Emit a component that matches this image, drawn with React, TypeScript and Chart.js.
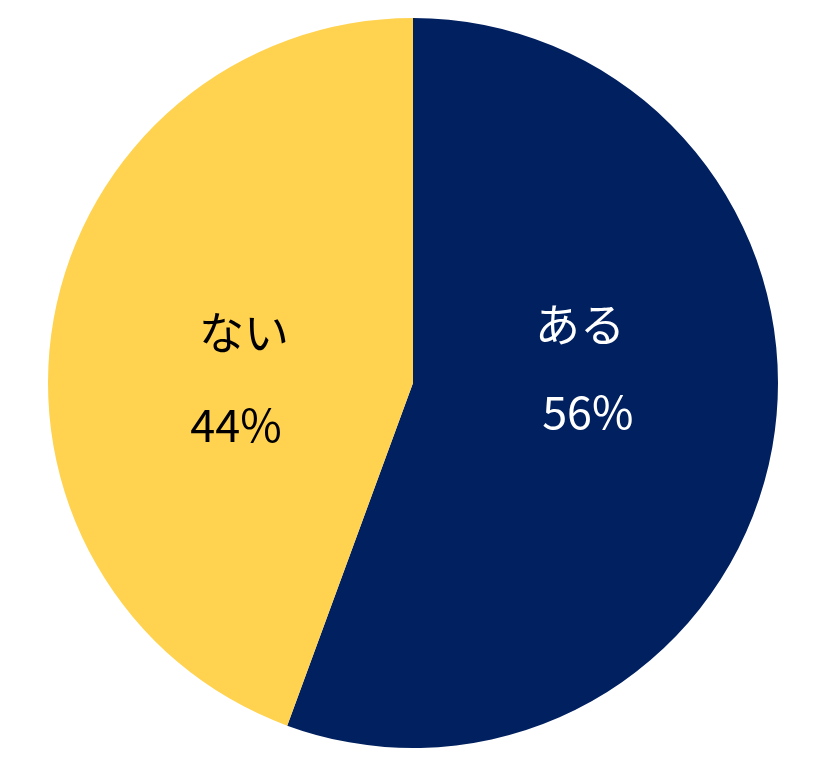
import React, { useEffect, useRef } from "react";
import { Chart, registerables } from "chart.js";

Chart.register(...registerables);

const categories = ["ある", "ない"];
const values = [55.6, 44.4];
const percentLabels = ["56%", "44%"];
const sliceColors = ["#002060", "#FFD24F"];
const textColors = ["#FFFFFF", "#000000"];

// label offsets as fractions of radius: [nameDx, nameDy, pctDx, pctDy]
const labelOffsets = [
  [0.4575, -0.159, 0.479, 0.079],
  [-0.463, -0.137, -0.485, 0.115],
];

const labelPlugin = {
  id: "sliceLabels",
  afterDatasetsDraw(chart: any) {
    const meta = chart.getDatasetMeta(0);
    const arc0 = meta.data[0];
    if (!arc0) return;
    const cx = arc0.x;
    const cy = arc0.y;
    const r = arc0.outerRadius;
    const ctx = chart.ctx;
    ctx.save();
    ctx.textAlign = "center";
    ctx.textBaseline = "middle";
    ctx.font = '45px "Noto Sans CJK JP", "Noto Sans", sans-serif';
    categories.forEach((name, i) => {
      const o = labelOffsets[i];
      ctx.fillStyle = textColors[i];
      ctx.fillText(name, cx + o[0] * r, cy + o[1] * r);
      ctx.fillText(percentLabels[i], cx + o[2] * r, cy + o[3] * r);
    });
    ctx.restore();
  },
};

export default function App() {
  const ref = useRef<HTMLCanvasElement | null>(null);
  useEffect(() => {
    if (!ref.current) return;
    const chart = new Chart(ref.current, {
      type: "pie",
      data: {
        labels: categories,
        datasets: [
          {
            data: values,
            backgroundColor: sliceColors,
            borderWidth: 0,
          },
        ],
      },
      options: {
        animation: false,
        responsive: false,
        maintainAspectRatio: false,
        layout: { padding: { left: 48, right: 62, top: 18, bottom: 26 } },
        plugins: {
          legend: { display: false },
          tooltip: { enabled: false },
        },
      },
      plugins: [labelPlugin],
    });
    return () => chart.destroy();
  }, []);
  return (
    <div style={{ position: "absolute", left: 0, top: 0, width: 840, height: 774, background: "#fff" }}>
      <canvas ref={ref} width={840} height={774} style={{ width: 840, height: 774, display: "block" }} />
    </div>
  );
}
